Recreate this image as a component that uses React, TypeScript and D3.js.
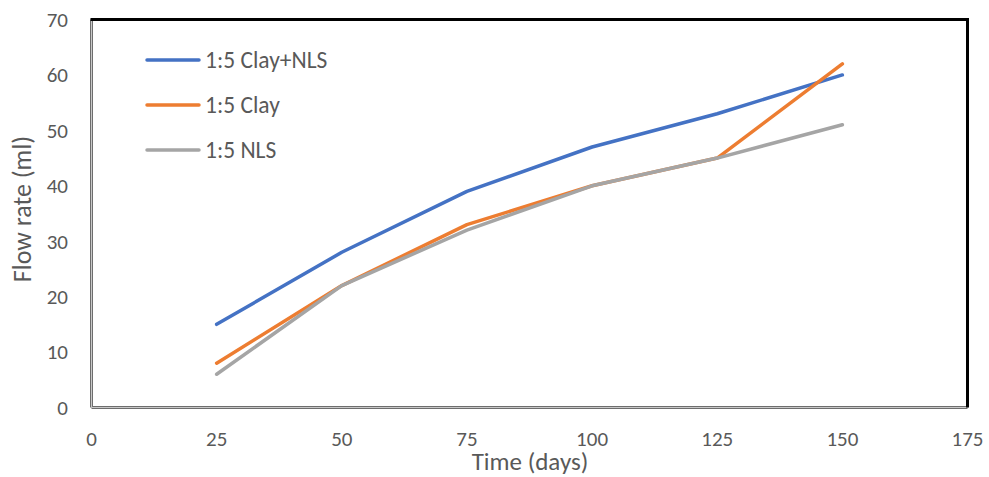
import React from "react";
import * as d3 from "d3";

const days = [25, 50, 75, 100, 125, 150];
const clayNls = [15, 28, 39, 47, 53, 60];
const clay = [8, 22, 33, 40, 45, 62];
const nls = [6, 22, 32, 40, 45, 51];
const seriesNames = ["1:5 Clay+NLS", "1:5 Clay", "1:5 NLS"];
const seriesColors = ["#4472C4", "#ED7D31", "#A5A5A5"];
const xTicks = [0, 25, 50, 75, 100, 125, 150, 175];
const yTicks = [0, 10, 20, 30, 40, 50, 60, 70];

const W = 989;
const H = 477;
const FONT = "Carlito, Lato, 'Open Sans', sans-serif";

export default function App() {
  const x = d3.scaleLinear().domain([0, 175]).range([91.5, 967.5]);
  const y = d3.scaleLinear().domain([0, 70]).range([407.5, 19.5]);
  const line = d3
    .line<number>()
    .x((_, i) => x(days[i]))
    .y((d) => y(d));
  const series = [clayNls, clay, nls];

  return (
    <svg
      width={W}
      height={H}
      style={{ position: "absolute", left: 0, top: 0, background: "#fff" }}
      fontFamily={FONT}
    >
      {/* axis lines: left & bottom (grey) */}
      <line x1={x(0)} x2={x(0)} y1={y(70)} y2={y(0)} stroke="#6e6e6e" strokeWidth={3} />
      <line x1={x(0)} x2={x(175)} y1={y(0)} y2={y(0)} stroke="#6e6e6e" strokeWidth={3} />
      <line x1={x(0)} x2={x(0)} y1={y(70)} y2={y(0)} stroke="#c8c8c8" strokeWidth={1} />
      <line x1={x(0)} x2={x(175)} y1={y(0)} y2={y(0)} stroke="#c8c8c8" strokeWidth={1} />
      {/* top & right (black) */}
      <line x1={x(0) - 1} x2={x(175) + 1.5} y1={y(70)} y2={y(70)} stroke="#000" strokeWidth={3} />
      <line x1={x(175)} x2={x(175)} y1={y(70)} y2={y(0)} stroke="#000" strokeWidth={3} />

      {/* y ticks */}
      {yTicks.map((t) => (
        <text
          key={"y" + t}
          x={68}
          y={y(t)}
          dy="0.35em"
          textAnchor="end"
          fontSize={21}
          fill="#595959"
        >
          {t}
        </text>
      ))}
      {/* x ticks */}
      {xTicks.map((t) => (
        <text
          key={"x" + t}
          x={x(t)}
          y={439}
          dy="0.35em"
          textAnchor="middle"
          fontSize={21}
          fill="#595959"
        >
          {t}
        </text>
      ))}

      {/* axis titles */}
      <text x={530} y={461} dy="0.35em" textAnchor="middle" fontSize={25} fill="#595959">
        Time (days)
      </text>
      <text
        transform={`translate(22,209) rotate(-90)`}
        dy="0.35em"
        textAnchor="middle"
        fontSize={26}
        fill="#595959"
      >
        Flow rate (ml)
      </text>

      {/* series */}
      {series.map((s, i) => (
        <path
          key={seriesNames[i]}
          d={line(s) || ""}
          fill="none"
          stroke={seriesColors[i]}
          strokeWidth={3.5}
          strokeLinecap="round"
          strokeLinejoin="round"
        />
      ))}

      {/* legend */}
      {seriesNames.map((n, i) => (
        <g key={"lg" + n} transform={`translate(0,${60 + i * 45})`}>
          <line x1={147} x2={199} y1={0} y2={0} stroke={seriesColors[i]} strokeWidth={3.5} strokeLinecap="round" />
          <text x={205} y={0} dy="0.35em" fontSize={23.5} fill="#595959">
            {n}
          </text>
        </g>
      ))}
    </svg>
  );
}
